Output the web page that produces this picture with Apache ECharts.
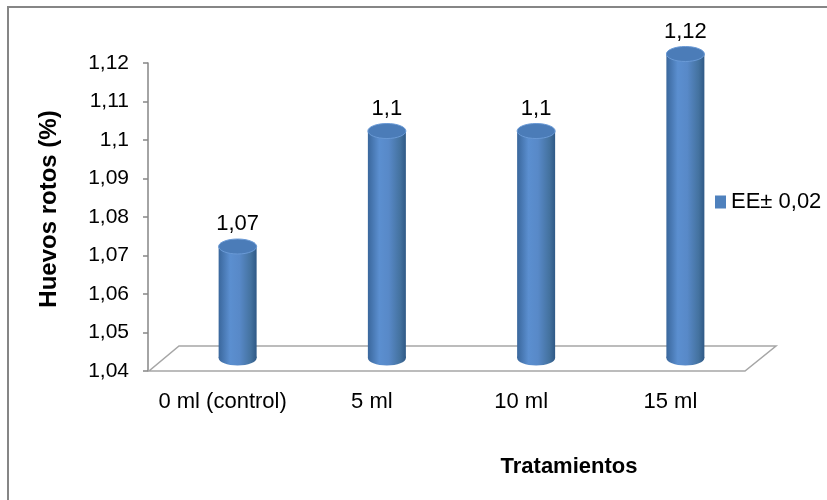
<!DOCTYPE html>
<html>
<head>
<meta charset="utf-8">
<script src="https://cdn.jsdelivr.net/npm/echarts@6/dist/echarts.min.js"></script>
<style>
html,body{margin:0;padding:0;background:#fff;}
#chart{width:827px;height:500px;}
</style>
</head>
<body>
<div id="chart"></div>
<script>
const categories = ['0 ml (control)', '5 ml', '10 ml', '15 ml'];
const values = [1.07, 1.1, 1.1, 1.12];
const seriesName = 'EE\u00b1 0,02';
const yMin = 1.04, yMax = 1.12, yStep = 0.01;
const yTitle = 'Huevos rotos (%)';
const xTitle = 'Tratamientos';

function fmt(v){ return parseFloat(v.toFixed(2)).toString().replace('.', ','); }

const FONT = 'Liberation Sans, Arial, sans-serif';
const DX = 15, DTOP = -9, DBOT = -13, RX = 19, RY = 7.5;
const DEPTH_X = 31, DEPTH_Y = 25;

const chart = echarts.init(document.getElementById('chart'), null, {renderer:'canvas'});

const bodyGrad = new echarts.graphic.LinearGradient(0,0,1,0,[
  {offset:0, color:'#3a679c'},
  {offset:0.3, color:'#5b8fd0'},
  {offset:0.55, color:'#5889c8'},
  {offset:0.85, color:'#44729f'},
  {offset:1, color:'#2f5986'}
]);

chart.setOption({
  animation:false,
  backgroundColor:'#fff',
  graphic:[
    {type:'rect', shape:{x:8, y:7, width:830, height:510},
     style:{fill:'none', stroke:'#868686', lineWidth:2}, silent:true, z:-10},
    {type:'text', x:49, y:209, rotation:Math.PI/2,
     style:{text:yTitle, align:'center', verticalAlign:'middle',
            font:'bold 24px ' + FONT, fill:'#000'}},
    {type:'text', x:569, y:467,
     style:{text:xTitle, align:'center', verticalAlign:'middle',
            font:'bold 22px ' + FONT, fill:'#000'}}
  ],
  legend:{
    data:[seriesName], left:710, top:186, orient:'vertical',
    icon:'rect', itemWidth:11, itemHeight:13,
    textStyle:{fontFamily:FONT, fontSize:22, color:'#000'}
  },
  grid:{left:148, right:82, top:63, bottom:129, containLabel:false},
  xAxis:{
    type:'category', data:categories,
    axisLine:{show:false}, axisTick:{show:false},
    axisLabel:{fontFamily:FONT, fontSize:22, color:'#000', margin:20, interval:0}
  },
  yAxis:{
    type:'value', min:yMin, max:yMax, interval:yStep,
    axisLine:{show:true, lineStyle:{color:'#868686', width:1.5}},
    axisTick:{show:true, length:5, lineStyle:{color:'#868686', width:1.5}},
    splitLine:{show:false},
    axisLabel:{fontFamily:FONT, fontSize:21, color:'#000', margin:19, formatter:fmt}
  },
  series:[
    {
      type:'custom', name:'floor', data:[0], z:1, silent:true,
      renderItem:function(params, api){
        const cs = params.coordSys;
        const x0 = cs.x, x1 = cs.x + cs.width, yb = cs.y + cs.height;
        return {
          type:'polygon',
          shape:{points:[[x0+1,yb],[x1,yb],[x1+DEPTH_X,yb-DEPTH_Y],[x0+DEPTH_X,yb-DEPTH_Y]]},
          style:{fill:'#fff', stroke:'#a6a6a6', lineWidth:1.5}
        };
      }
    },
    {
      type:'custom', name:seriesName, data:values, z:2,
      itemStyle:{color:'#4f81bd'},
      encode:{x:-1, y:0},
      renderItem:function(params, api){
        const idx = params.dataIndex;
        const v = api.value(0);
        const top = api.coord([idx, v]);
        const bot = api.coord([idx, yMin]);
        const cx = top[0] + DX;
        const ty = top[1] + DTOP;
        const by = bot[1] + DBOT;
        return {
          type:'group',
          children:[
            {type:'ellipse', shape:{cx:cx, cy:by, rx:RX, ry:RY}, style:{fill:bodyGrad}},
            {type:'rect', shape:{x:cx-RX, y:ty, width:RX*2, height:by-ty}, style:{fill:bodyGrad}},
            {type:'ellipse', shape:{cx:cx, cy:ty, rx:RX, ry:RY}, style:{fill:'#4b7cb8', stroke:'#6a9ad6', lineWidth:1}},
            {type:'text', style:{text:fmt(v), x:cx, y:ty-RY-4, align:'center', verticalAlign:'bottom',
              font:'22px ' + FONT, fill:'#000'}}
          ]
        };
      }
    }
  ]
});
</script>
</body>
</html>
